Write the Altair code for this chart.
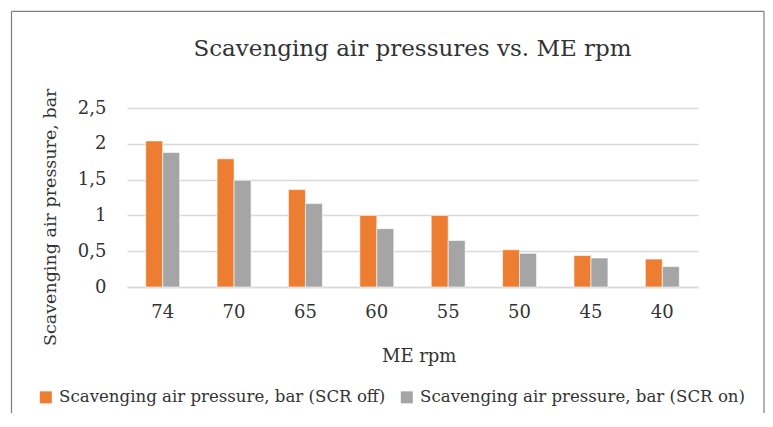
import altair as alt
import pandas as pd

rpm = ["74", "70", "65", "60", "55", "50", "45", "40"]
scr_off = [2.04, 1.79, 1.36, 1.0, 1.0, 0.52, 0.44, 0.39]
scr_on = [1.88, 1.49, 1.165, 0.815, 0.65, 0.47, 0.405, 0.285]
series = ["Scavenging air pressure, bar (SCR off)", "Scavenging air pressure, bar (SCR on)"]
colors = ["#ED7D31", "#A5A5A5"]
y_ticks = [0, 0.5, 1, 1.5, 2, 2.5]

rows = []
for i, r in enumerate(rpm):
    rows.append({"rpm": r, "series": series[0], "value": scr_off[i]})
    rows.append({"rpm": r, "series": series[1], "value": scr_on[i]})
df = pd.DataFrame(rows)

FONT = "DejaVu Serif"
TXT = "#333333"

bars = alt.Chart(df).mark_bar(stroke="white", strokeWidth=0.6).encode(
    x=alt.X("rpm:N", sort=rpm,
            scale=alt.Scale(paddingInner=0.524, paddingOuter=0.262),
            axis=alt.Axis(title="ME rpm", labelAngle=0, ticks=False, tickSize=0,
                          labelPadding=30, labelBaseline="alphabetic",
                          labelFontSize=18, labelColor=TXT, labelFont=FONT,
                          domainColor="#D9D9D9", domainWidth=1.5,
                          titleFont=FONT, titleFontSize=18, titleFontWeight="normal",
                          titleColor=TXT, titleBaseline="alphabetic",
                          titleX=291.7, titleY=74.3)),
    xOffset=alt.XOffset("series:N", sort=series),
    y=alt.Y("value:Q", scale=alt.Scale(domain=[0, 2.5], nice=False),
            axis=alt.Axis(title="Scavenging air pressure, bar", values=y_ticks,
                          labelExpr="replace(format(datum.value, '.1~f'), '.', ',')",
                          ticks=False, tickSize=0, domain=False, labelPadding=21,
                          labelFontSize=18, labelColor=TXT, labelFont=FONT,
                          gridColor="#D9D9D9", gridWidth=1.5,
                          titleFont=FONT, titleFontSize=17.5, titleFontWeight="normal",
                          titleColor=TXT, titleBaseline="alphabetic",
                          titleX=-71.5, titleY=108.8)),
    color=alt.Color("series:N", sort=series,
                    scale=alt.Scale(domain=series, range=colors),
                    legend=alt.Legend(title=None, orient="none", direction="horizontal",
                                      legendX=-89.5, legendY=281,
                                      symbolType="square", symbolSize=144,
                                      symbolStrokeWidth=0, labelOffset=5,
                                      columnPadding=13,
                                      labelFont=FONT, labelFontSize=16.6, labelColor=TXT,
                                      labelLimit=500)),
)

one = alt.Data(values=[{}])
frame_left = alt.Chart(one).mark_rule(color="#7F7F7F", strokeWidth=1.2).encode(
    x=alt.value(-115.5), y=alt.value(-96.7), y2=alt.value(320))
frame_top = alt.Chart(one).mark_rule(color="#7F7F7F", strokeWidth=1.2).encode(
    x=alt.value(-115.5), x2=alt.value(637), y=alt.value(-96.7))
frame_right = alt.Chart(one).mark_rule(color="#7F7F7F", strokeWidth=1.2).encode(
    x=alt.value(637), y=alt.value(-96.7), y2=alt.value(320))

chart = alt.layer(frame_left, frame_top, frame_right, bars).properties(
    width=571, height=179,
    title=alt.TitleParams("Scavenging air pressures vs. ME rpm", font=FONT,
                          fontSize=23, fontWeight="normal", color=TXT,
                          anchor="middle", frame="group", baseline="alphabetic",
                          offset=-68.7),
    autosize=alt.AutoSizeParams(type="none"),
    padding={"left": 119, "top": 100, "right": 67, "bottom": 126},
).configure_view(stroke=None)

chart.save("out.html", embed_options={"renderer": "svg", "actions": False})
